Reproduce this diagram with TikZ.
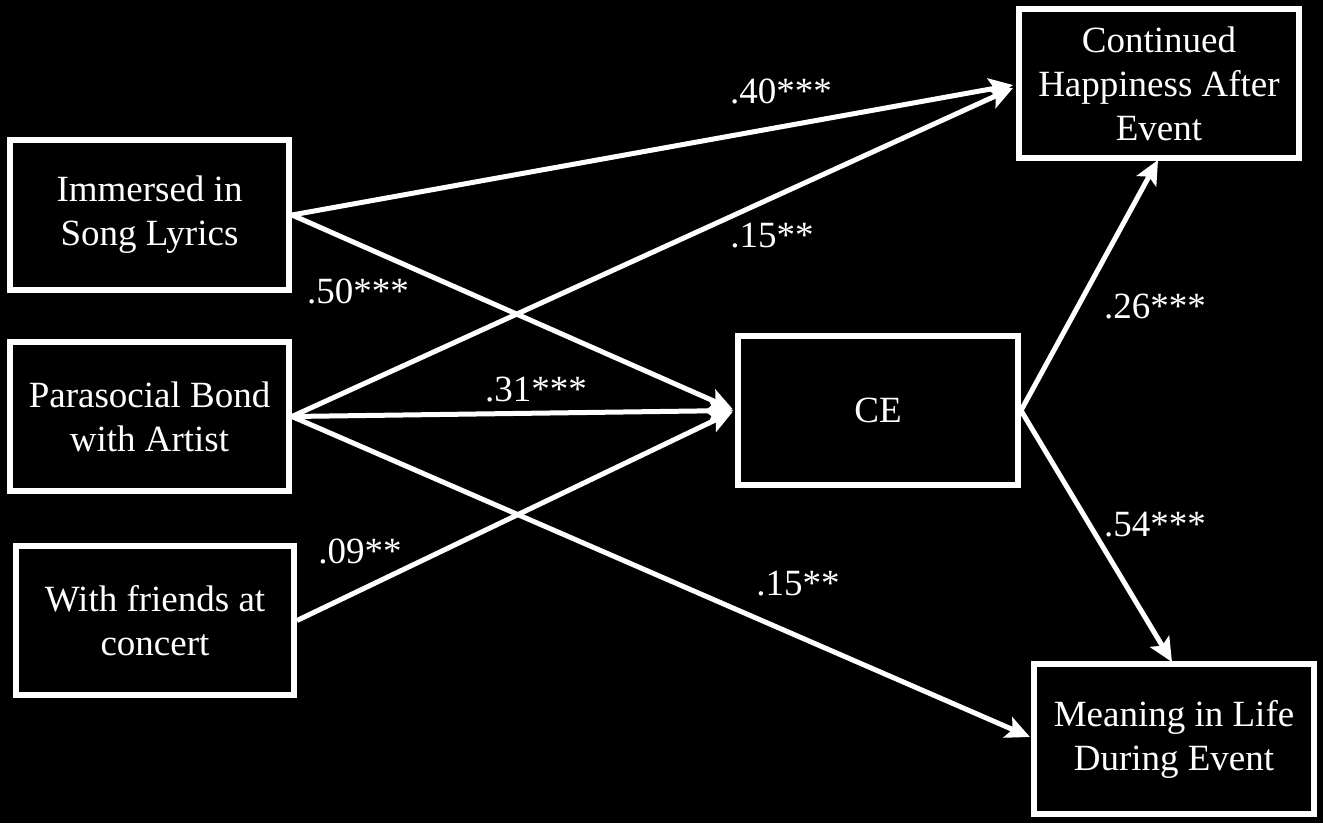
\documentclass[tikz,border=0pt]{standalone}
\usepackage{fontspec}
\setmainfont{Liberation Serif}
\usetikzlibrary{arrows.meta,calc}

\tikzset{
  varbox/.style={draw=white, line width=6pt, fill=black, text=white,
    align=center, inner sep=0pt, font=\fontsize{37}{44}\selectfont},
  path/.style={draw=white, line width=5pt,
    -{Stealth[length=24pt,width=22pt,inset=5pt]}},
  coef/.style={text=white, inner sep=0pt, anchor=center,
    font=\fontsize{37}{44}\selectfont}
}

\begin{document}
\begin{tikzpicture}[x=1pt,y=-1pt]
  \fill[black] (0,0) rectangle (1323,823);
  \useasboundingbox (0,0) rectangle (1323,823);

  % predictors
  \node[varbox, minimum width=279pt, minimum height=150pt] (imm) at (149.5,215) {Immersed in\\Song Lyrics};
  \node[varbox, minimum width=279pt, minimum height=149pt] (par) at (149.5,416.5) {Parasocial Bond\\with Artist};
  \node[varbox, minimum width=278pt, minimum height=149pt] (wf) at (155,620.5) {With friends at\\concert};

  % mediator
  \node[varbox, minimum width=280pt, minimum height=149pt] (ce) at (878,410.5) {CE};

  % outcomes
  \node[varbox, minimum width=280pt, minimum height=149pt] (cont) at (1159,83.5) {Continued\\Happiness After\\Event};
  \node[varbox, minimum width=280pt, minimum height=150pt] (mean) at (1174,739) {Meaning in Life\\During Event};

  % arrow end points
  \coordinate (contA) at ($(cont.west)+(-3,1.5)$);
  \coordinate (contB) at ($(cont.west)+(-3,4.5)$);
  \coordinate (ceA) at ($(ce.west)+(-2,-1)$);
  \coordinate (ceB) at ($(ce.west)+(-2,0)$);
  \coordinate (ceC) at ($(ce.west)+(-2,1)$);
  \coordinate (contS) at ($(cont.south)+(-1,-1)$);
  \coordinate (meanN) at ($(mean.north)+(-2,1)$);
  \coordinate (meanW) at ($(mean.west)+(-1,-2)$);

  % paths
  \draw[path] (imm.east) -- (contA);
  \draw[path] (imm.east) -- (ceA);
  \draw[path] (par.east) -- (contB);
  \draw[path] (par.east) -- (ceB);
  \draw[path] (par.east) -- (meanW);
  \draw[path] (wf.east) -- (ceC);
  \draw[path] (ce.east) -- (contS);
  \draw[path] (ce.east) -- (meanN);

  % coefficients
  \node[coef] (c1) at (781,91) {.40***};
  \node[coef] (c2) at (772,236) {.15**};
  \node[coef] (c3) at (358,291) {.50***};
  \node[coef] (c4) at (536,390) {.31***};
  \node[coef] (c5) at (360,551) {.09**};
  \node[coef] (c6) at (798,584) {.15**};
  \node[coef] (c7) at (1155,307) {.26***};
  \node[coef] (c8) at (1155,525) {.54***};
\end{tikzpicture}
\end{document}
